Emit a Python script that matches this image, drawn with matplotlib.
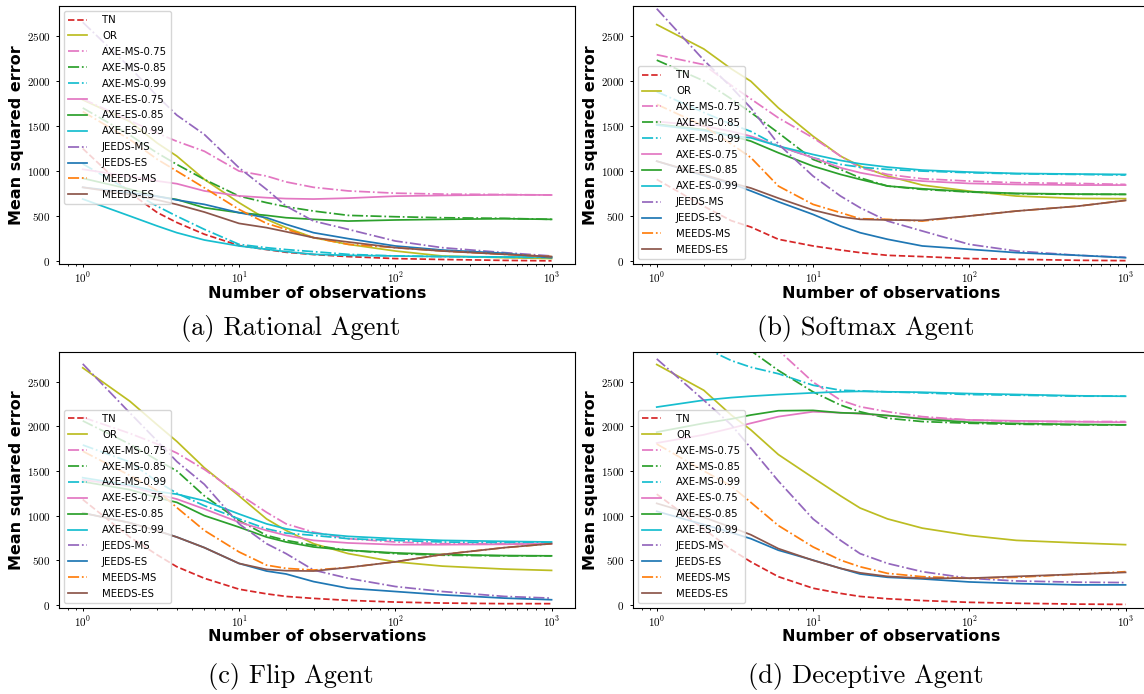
import matplotlib
matplotlib.use('Agg')
import matplotlib.pyplot as plt
from matplotlib.ticker import FixedLocator, FuncFormatter, LogLocator, NullFormatter
import numpy as np

plt.rcParams['mathtext.fontset'] = 'cm'

# number of observations at which the error was recorded
n_obs = [1, 2, 3, 4, 6, 10, 15, 20, 30, 50, 100, 200, 500, 1000]

# mean squared error per method, one dict per agent type
rational = {
    'TN':          [1250, 760, 540, 430, 300, 175, 130, 100, 75, 52, 30, 20, 10, 5],
    'OR':          [1790, 1550, 1310, 1166, 908, 650, 465, 373, 262, 188, 114, 59, 40, 30],
    'AXE-MS-0.75': [1800, 1560, 1420, 1330, 1220, 1000, 945, 880, 820, 780, 755, 745, 740, 735],
    'AXE-MS-0.85': [1700, 1400, 1200, 1074, 908, 723, 650, 605, 557, 509, 494, 483, 476, 465],
    'AXE-MS-0.99': [1080, 780, 610, 500, 354, 188, 151, 130, 107, 77, 59, 52, 45, 41],
    'AXE-ES-0.75': [1020, 940, 890, 860, 780, 725, 705, 695, 690, 700, 722, 730, 737, 735],
    'AXE-ES-0.85': [920, 800, 720, 685, 594, 539, 509, 483, 465, 446, 458, 465, 472, 465],
    'AXE-ES-0.99': [690, 502, 391, 317, 236, 170, 133, 107, 77, 66, 59, 52, 48, 48],
    'JEEDS-MS':    [2650, 2150, 1830, 1620, 1406, 1037, 797, 612, 446, 354, 225, 151, 96, 59],
    'JEEDS-ES':    [820, 760, 720, 680, 631, 539, 483, 410, 317, 251, 170, 125, 89, 40],
    'MEEDS-MS':    [1660, 1350, 1130, 1000, 815, 575, 420, 354, 262, 188, 151, 114, 77, 52],
    'MEEDS-ES':    [820, 740, 680, 630, 546, 420, 373, 328, 262, 214, 151, 114, 77, 52],
}

softmax = {
    'TN':          [908, 610, 450, 380, 244, 170, 125, 96, 66, 52, 30, 22, 11, 7],
    'OR':          [2624, 2354, 2133, 1996, 1701, 1387, 1166, 1055, 945, 845, 778, 723, 697, 694],
    'AXE-MS-0.75': [2290, 2180, 1950, 1800, 1590, 1369, 1166, 1037, 963, 915, 889, 871, 863, 852],
    'AXE-MS-0.85': [2230, 2000, 1800, 1650, 1424, 1129, 1018, 926, 834, 797, 768, 749, 742, 742],
    'AXE-MS-0.99': [1880, 1650, 1520, 1440, 1277, 1148, 1074, 1044, 1018, 1000, 982, 970, 963, 956],
    'AXE-ES-0.75': [1550, 1500, 1440, 1387, 1277, 1148, 1037, 982, 926, 889, 863, 852, 845, 845],
    'AXE-ES-0.85': [1520, 1460, 1390, 1332, 1203, 1055, 963, 908, 834, 804, 771, 753, 745, 742],
    'AXE-ES-0.99': [1510, 1450, 1390, 1369, 1277, 1184, 1118, 1081, 1044, 1011, 989, 974, 967, 963],
    'JEEDS-MS':    [2800, 2230, 1930, 1700, 1300, 945, 723, 594, 446, 336, 188, 114, 66, 44],
    'JEEDS-ES':    [1110, 950, 860, 780, 660, 520, 391, 317, 244, 170, 133, 96, 66, 40],
    'MEEDS-MS':    [1740, 1500, 1300, 1150, 834, 631, 539, 472, 465, 446, 502, 557, 612, 675],
    'MEEDS-ES':    [1110, 960, 870, 812, 700, 568, 494, 465, 458, 454, 502, 557, 612, 675],
}

flip = {
    'TN':          [1180, 760, 560, 428, 299, 177, 125, 96, 74, 52, 33, 22, 15, 15],
    'OR':          [2653, 2280, 2015, 1830, 1535, 1221, 963, 834, 686, 575, 483, 435, 402, 387],
    'AXE-MS-0.75': [2100, 1920, 1800, 1700, 1517, 1240, 1037, 908, 815, 742, 705, 686, 686, 686],
    'AXE-MS-0.85': [2060, 1800, 1620, 1500, 1221, 945, 779, 723, 668, 612, 575, 557, 550, 550],
    'AXE-MS-0.99': [1790, 1600, 1380, 1250, 1111, 963, 852, 804, 779, 742, 723, 705, 697, 697],
    'AXE-ES-0.75': [1400, 1330, 1240, 1185, 1074, 926, 834, 779, 723, 694, 675, 675, 679, 686],
    'AXE-ES-0.85': [1380, 1290, 1200, 1148, 1000, 871, 760, 705, 649, 612, 583, 565, 553, 550],
    'AXE-ES-0.99': [1424, 1340, 1270, 1240, 1166, 1018, 908, 852, 804, 768, 742, 723, 712, 705],
    'JEEDS-MS':    [2697, 2150, 1834, 1605, 1350, 908, 686, 575, 391, 299, 207, 151, 96, 77],
    'JEEDS-ES':    [1030, 920, 830, 760, 642, 465, 380, 347, 262, 188, 151, 114, 77, 59],
    'MEEDS-MS':    [1720, 1450, 1280, 1090, 834, 594, 446, 410, 391, 420, 483, 565, 642, 686],
    'MEEDS-ES':    [1030, 920, 830, 760, 642, 465, 398, 384, 380, 420, 483, 565, 642, 686],
}

deceptive = {
    'TN':          [1240, 850, 620, 483, 317, 188, 130, 96, 70, 50, 30, 20, 10, 7],
    'OR':          [2690, 2402, 2125, 1959, 1683, 1424, 1221, 1085, 963, 860, 778, 723, 694, 675],
    'AXE-MS-0.75': [4200, 3600, 3250, 3050, 2850, 2494, 2291, 2218, 2162, 2107, 2070, 2052, 2052, 2052],
    'AXE-MS-0.85': [3900, 3350, 3050, 2845, 2624, 2384, 2236, 2162, 2089, 2052, 2033, 2022, 2015, 2015],
    'AXE-MS-0.99': [3200, 2880, 2734, 2660, 2587, 2458, 2402, 2395, 2384, 2373, 2354, 2347, 2336, 2336],
    'AXE-ES-0.75': [1812, 1904, 1978, 2033, 2107, 2162, 2151, 2140, 2118, 2089, 2070, 2060, 2050, 2044],
    'AXE-ES-0.85': [1934, 2033, 2081, 2125, 2173, 2177, 2150, 2144, 2120, 2081, 2044, 2030, 2020, 2015],
    'AXE-ES-0.99': [2214, 2291, 2320, 2336, 2354, 2373, 2385, 2390, 2385, 2380, 2365, 2355, 2340, 2335],
    'JEEDS-MS':    [2753, 2291, 2015, 1756, 1387, 963, 723, 575, 465, 373, 299, 269, 255, 251],
    'JEEDS-ES':    [1048, 900, 810, 742, 613, 502, 410, 347, 310, 292, 258, 240, 225, 225],
    'MEEDS-MS':    [1801, 1500, 1330, 1148, 889, 650, 502, 428, 354, 317, 300, 310, 345, 373],
    'MEEDS-ES':    [1137, 980, 870, 786, 631, 500, 410, 360, 320, 300, 300, 320, 345, 365],
}

captions = ['(a) Rational Agent', '(b) Softmax Agent', '(c) Flip Agent', '(d) Deceptive Agent']
legend_locs = ['upper left', 'lower left', 'lower left', 'lower left']

# line style and colour for each method
styles = {
    'TN':          ('--', '#d62728'),
    'OR':          ('-',  '#bcbd22'),
    'AXE-MS-0.75': ('-.', '#e377c2'),
    'AXE-MS-0.85': ('-.', '#2ca02c'),
    'AXE-MS-0.99': ('-.', '#17becf'),
    'AXE-ES-0.75': ('-',  '#e377c2'),
    'AXE-ES-0.85': ('-',  '#2ca02c'),
    'AXE-ES-0.99': ('-',  '#17becf'),
    'JEEDS-MS':    ('-.', '#9467bd'),
    'JEEDS-ES':    ('-',  '#1f77b4'),
    'MEEDS-MS':    ('-.', '#ff7f0e'),
    'MEEDS-ES':    ('-',  '#8c564b'),
}

W, H = 1144, 694
fig = plt.figure(figsize=(W / 100, H / 100), dpi=100)

# panel boxes in pixels: left, top, width, height
boxes = [(59.3, 6, 515.7, 258), (633.3, 6, 515.7, 258),
         (59.3, 352, 515.7, 255.7), (633.3, 352, 515.7, 255.7)]
caption_pos = [(291, 328), (866, 328), (291, 676), (866, 676)]

for data, box, cap, cpos, loc in zip([rational, softmax, flip, deceptive], boxes,
                                     captions, caption_pos, legend_locs):
    l, t, w, h = box
    ax = fig.add_axes([l / W, 1 - (t + h) / H, w / W, h / H])
    for name, vals in data.items():
        ls, c = styles[name]
        ax.plot(n_obs, vals, linestyle=ls, color=c, lw=1.25, label=name)

    ax.set_xscale('log')
    ax.set_ylim(-30, 2830)
    ax.yaxis.set_major_locator(FixedLocator([0, 500, 1000, 1500, 2000, 2500]))
    ax.yaxis.set_major_formatter(FuncFormatter(lambda v, p: r'$%d$' % v))
    ax.xaxis.set_major_locator(LogLocator(base=10))
    ax.xaxis.set_major_formatter(FuncFormatter(lambda v, p: r'$10^{%d}$' % round(np.log10(v))))
    ax.xaxis.set_minor_formatter(NullFormatter())
    ax.tick_params(axis='both', which='major', length=2.5, width=0.7, labelsize=8)
    ax.tick_params(axis='x', which='minor', length=1.5, width=0.6)
    ax.tick_params(axis='x', pad=2)
    ax.tick_params(axis='y', pad=4)
    for s in ax.spines.values():
        s.set_linewidth(0.8)

    ax.set_xlabel('Number of observations', fontsize=11.5, fontweight='bold', labelpad=0.5)
    ax.set_ylabel('Mean squared error', fontsize=11.5, fontweight='bold', labelpad=2)

    ax.legend(loc=loc, fontsize=7.3, handlelength=1.8, handletextpad=1.5,
              labelspacing=0.58, framealpha=0.8)

    fig.text(cpos[0] / W, 1 - cpos[1] / H, cap, ha='center', va='center',
             family='cmr10', fontsize=19)

fig.savefig('out.png', dpi=100)
